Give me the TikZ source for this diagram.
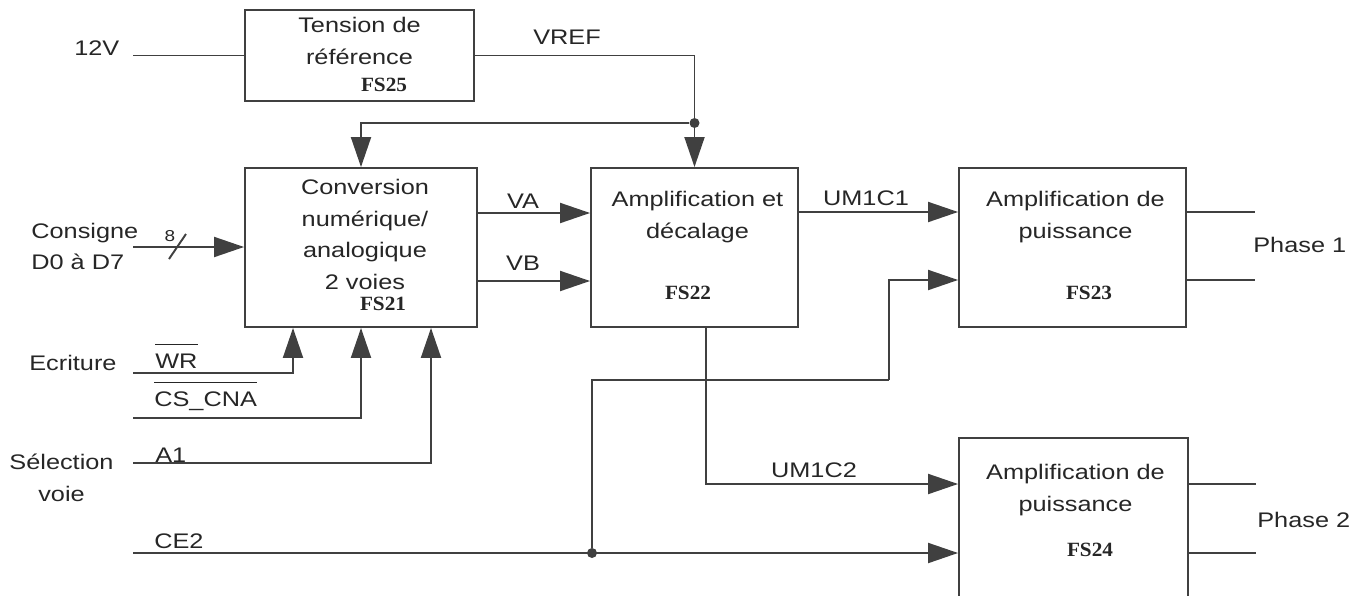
\documentclass[tikz,border=0pt]{standalone}
\usepackage{fontspec}
\setmainfont{Liberation Sans}[FakeStretch=1.2]
\newfontfamily\fsfont{Liberation Serif}[FakeStretch=1.05]
\usepackage{tikz}
\usetikzlibrary{arrows.meta, positioning, calc}

\newcommand{\surligne}[1]{\vbox{\hrule height 0.8pt\kern 5pt\hbox{#1}}}

\begin{document}
\begin{tikzpicture}[
    x=0.02cm, y=-0.02cm,
    font=\fontsize{12}{17.9}\selectfont,
    >={Triangle[length=0.6cm, width=0.4cm]},
    bloc/.style={rectangle, draw=black!75, line width=1.1pt, fill=white, inner sep=0pt},
    titre/.style={align=center, inner sep=0pt, text=black!85},
    fs/.style={font=\fsfont\bfseries\fontsize{11.5}{13}\selectfont, inner sep=0pt, text=black!85},
    lbl/.style={inner sep=0pt, text=black!85},
    fil/.style={draw=black!75, line width=1.1pt},
    fleche/.style={fil, ->},
    point/.style={circle, fill=black!75, inner sep=0pt, minimum size=0.2cm}
]
\useasboundingbox (0,0) rectangle (1372,595);
\clip (0,0) rectangle (1372,595);

% Blocs
\node (fs25) [bloc, minimum width=4.58cm, minimum height=1.82cm] at (359.5,55.5) {};
\node (fs21) [bloc, minimum width=4.64cm, minimum height=3.18cm] at (361,247.5) {};
\node (fs22) [bloc, minimum width=4.14cm, minimum height=3.18cm] at (694.5,247.5) {};
\node (fs23) [bloc, minimum width=4.54cm, minimum height=3.18cm] at (1072.5,247.5) {};
\node (fs24) [bloc, minimum width=4.58cm, minimum height=4.04cm] at (1073.5,539) {};

% Textes des blocs
\node (t25) [titre, anchor=north] at ($(fs25.north)+(0,8)$) {Tension de\\référence};
\node (t21) [titre, anchor=north] at ($(fs21.north)+(4,12)$) {Conversion\\numérique/\\analogique\\2 voies};
\node (t22) [titre, anchor=north] at ($(fs22.north)+(3,24)$) {Amplification et\\décalage};
\node (t23) [titre, anchor=north] at ($(fs23.north)+(3,24)$) {Amplification de\\puissance};
\node (t24) [titre, anchor=north] at ($(fs24.north)+(2,27)$) {Amplification de\\puissance};
\node (n25) [fs] at (384,85) {FS25};
\node (n21) [fs] at (383,304) {FS21};
\node (n22) [fs] at (688,293) {FS22};
\node (n23) [fs] at (1089,293) {FS23};
\node (n24) [fs] at (1090,550) {FS24};

% Signaux
\node (l12v) [lbl, anchor=base west] at (74,55.5) {12V};
\node (lvref) [lbl, anchor=base] at (567,44.5) {VREF};
\node (lcons) [lbl, align=left, anchor=north west] at (31,222.5) {Consigne\\D0 à D7};
\node (lhuit) [lbl, font=\fontsize{9}{10}\selectfont] at (170,236) {8};
\node (lva) [lbl, anchor=base] at (523,208.5) {VA};
\node (lvb) [lbl, anchor=base] at (523,270.5) {VB};
\node (lum1) [lbl, anchor=base] at (866,205.5) {UM1C1};
\node (lum2) [lbl, anchor=base] at (814,477.5) {UM1C2};
\node (lph1) [lbl, anchor=base west] at (1253,252.5) {Phase 1};
\node (lph2) [lbl, anchor=base west] at (1257,527.5) {Phase 2};
\node (lecr) [lbl, anchor=base west] at (29,370.5) {Ecriture};
\node (lwr) [lbl, anchor=base west] at (155,368.5) {\surligne{WR}};
\node (lcs) [lbl, anchor=base west] at (154,406.5) {\surligne{CS\_CNA}};
\node (lsel) [lbl, align=center, anchor=north] at (61.5,454) {Sélection\\voie};
\node (la1) [lbl, anchor=base west] at (155,462.5) {A1};
\node (lce2) [lbl, anchor=base west] at (154,548.5) {CE2};

% Points de jonction
\coordinate (e12v) at (133,55.5);
\coordinate (econs) at (133,247);
\coordinate (ewr) at (133,373);
\coordinate (ecs) at (133,418);
\coordinate (ea1) at (133,463);
\coordinate (ece2) at (133,553);
\coordinate (coude) at (889,380);
\node (jref) [point] at (694.5,123) {};
\node (jce2) [point] at (592,553) {};

% Liaisons
\draw [fil] (e12v) -- (fs25);
\draw [fil] (fs25.east) -| (jref);
\draw [fleche] (jref) -- (fs22);
\draw [fleche] (jref) -| (fs21.north);

\draw [fleche] (econs) -- (econs -| fs21.west);
\draw [fil] (169,259) -- (186,234);

\draw [fleche] ($(fs21.east)+(0,-34.5)$) -- ($(fs22.west)+(0,-34.5)$);
\draw [fleche] ($(fs21.east)+(0,33.5)$) -- ($(fs22.west)+(0,33.5)$);
\draw [fleche] ($(fs22.east)+(0,-35.5)$) -- ($(fs23.west)+(0,-35.5)$);

\draw [fleche] (ewr) -| ($(fs21.south)+(-68,0)$);
\draw [fleche] (ecs) -| (fs21.south);
\draw [fleche] (ea1) -| ($(fs21.south)+(70,0)$);

\draw [fleche] ($(fs22.south)+(11.5,0)$) |- ($(fs24.west)+(0,-55)$);
\draw [fleche] (ece2) -- ($(fs24.west)+(0,14)$);
\draw [fil] (jce2) |- (coude);
\draw [fleche] (coude) |- ($(fs23.west)+(0,32.5)$);

\draw [fil] ($(fs23.east)+(0,-35.5)$) -- +(68,0);
\draw [fil] ($(fs23.east)+(0,32.5)$) -- +(68,0);
\draw [fil] ($(fs24.east)+(0,-55)$) -- +(67,0);
\draw [fil] ($(fs24.east)+(0,14)$) -- +(67,0);

\end{tikzpicture}
\end{document}
